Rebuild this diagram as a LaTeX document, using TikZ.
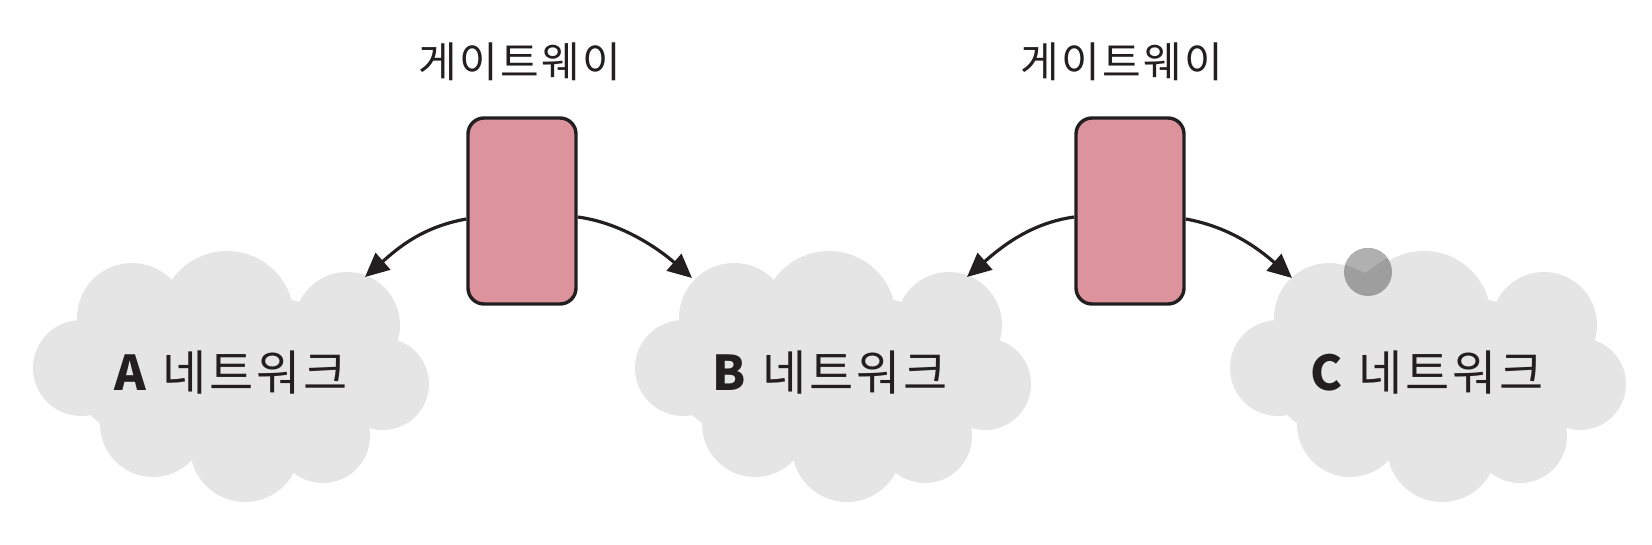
\documentclass[tikz,border=0pt]{standalone}
\usepackage{fontspec}
\newfontfamily\kr{Noto Sans CJK KR}
\newfontfamily\krs[LetterSpace=6]{Noto Sans CJK KR}
\usetikzlibrary{arrows.meta}
\definecolor{inkc}{HTML}{231F20}
\definecolor{pinkc}{HTML}{DC939B}
\definecolor{cloudc}{HTML}{E5E5E5}
\definecolor{dotdark}{HTML}{9E9E9E}
\definecolor{dotlight}{HTML}{B0B0B0}
\tikzset{
  gwbox/.style={draw=inkc, fill=pinkc, line width=3.4pt, rounded corners=16pt,
    minimum width=108pt, minimum height=186pt, inner sep=0pt},
  gwlabel/.style={text=inkc, font=\krs\fontsize{42}{48}\selectfont, inner sep=0pt},
  netlabel/.style={text=inkc, font=\krs\fontsize{48}{56}\selectfont, inner sep=0pt},
  arr/.style={draw=inkc, line width=3.2pt, -{Triangle[length=24pt,width=22pt]}},
  cloudpic/.pic={
    \fill[cloudc] (-4,-58) circle (67pt) (-99,-58) circle (55pt)
      (116,-51) circle (53pt) (-150,-8) circle (48pt) (152,8) circle (46pt)
      (-78,48) circle (53pt) (14,71) circle (55pt) (92,60) circle (47pt)
      (0,0) ellipse (160pt and 82pt);
  }
}
\begin{document}
\begin{tikzpicture}[x=1pt,y=-1pt]
\useasboundingbox (0,0) rectangle (1652,544);
% clouds
\pic at (231,376) {cloudpic};
\pic at (833,376) {cloudpic};
\pic at (1428,376) {cloudpic};
% dot on cloud C
\fill[dotdark] (1368,272) circle (24pt);
\begin{scope}
  \clip (1368,272) circle (24pt);
  \fill[dotlight] (1340,240) -- (1400,240) -- (1400,255) -- (1385,259) -- (1365,273) -- (1347,265) -- (1340,264) -- cycle;
\end{scope}
% network labels
\node[netlabel] (nA) at (231,373) {\textbf{A} 네트워크};
\node[netlabel] (nB) at (830,373) {\textbf{B} 네트워크};
\node[netlabel] (nC) at (1427,373) {\textbf{C} 네트워크};
% arrow tips on clouds
\coordinate (tA) at (365,277);
\coordinate (tB1) at (692,278);
\coordinate (tB2) at (967,277);
\coordinate (tC) at (1292,278);
% gateways
\node[gwbox] (g1) at (522,211) {};
\node[gwbox] (g2) at (1130,211) {};
\node[gwlabel] (l1) at (520,62) {게이트웨이};
\node[gwlabel] (l2) at (1122,62) {게이트웨이};
% arrows
\draw[arr] ([yshift=-8pt]g1.west) .. controls +(-45,8) and +(32,-28) .. (tA);
\draw[arr] ([yshift=-6pt]g1.east) .. controls +(45,6) and +(-32,-28) .. (tB1);
\draw[arr] ([yshift=-6pt]g2.west) .. controls +(-45,6) and +(32,-28) .. (tB2);
\draw[arr] ([yshift=-8pt]g2.east) .. controls +(45,8) and +(-32,-28) .. (tC);
\end{tikzpicture}
\end{document}
